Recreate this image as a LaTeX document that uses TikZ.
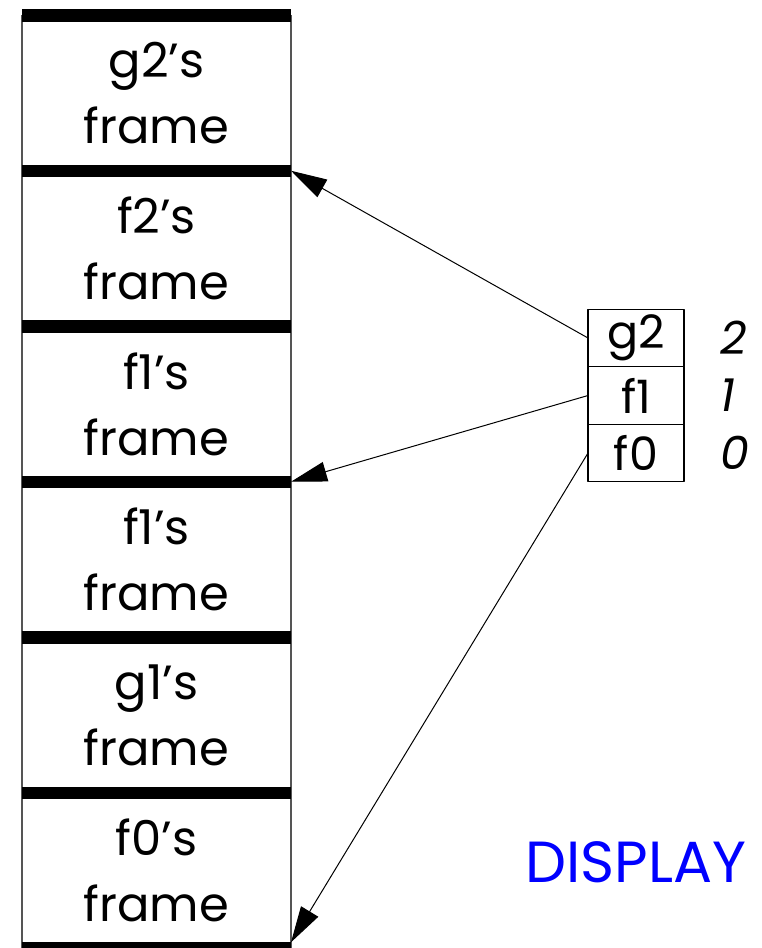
\documentclass[tikz,border=0pt]{standalone}
\usepackage{fontspec}
\setmainfont{Poppins}
\usepackage{tikz}
\usetikzlibrary{arrows.meta,positioning}
\definecolor{qqqqff}{rgb}{0.0,0.0,1.0}
\definecolor{sqsqsq}{rgb}{0.3333,0.3333,0.3333}
\tikzset{
  framebox/.style={minimum width=134.5pt,minimum height=77.75pt,inner sep=0pt,outer sep=0pt,align=center,font=\fontsize{24}{33}\selectfont},
  dispcell/.style={draw,line width=0.6pt,minimum width=48pt,minimum height=28.75pt,inner sep=0pt,outer sep=0pt,font=\fontsize{23}{26}\selectfont},
  dispidx/.style={inner sep=0pt,font=\fontsize{23}{26}\selectfont\itshape}
}
\begin{document}
\begin{tikzpicture}[line cap=butt,line join=round,>={Triangle[length=18pt,width=10pt]},x=0.5pt,y=-0.5pt]
\useasboundingbox (0,0) rectangle (761,948);
\clip (0,0) rectangle (761,948);
% the stack of frames
\node[framebox] (g2frame) at (156.5,93) {g2's\\frame};
\node[framebox,below=0pt of g2frame] (f2frame) {f2's\\frame};
\node[framebox,below=0pt of f2frame] (f1frameA) {f1's\\frame};
\node[framebox,below=0pt of f1frameA] (f1frameB) {f1's\\frame};
\node[framebox,below=0pt of f1frameB] (g1frame) {g1's\\frame};
\node[framebox,below=0pt of g1frame] (f0frame) {f0's\\frame};
\draw [line width=1pt,color=sqsqsq] (g2frame.north west)-- (f0frame.south west);
\draw [line width=1pt,color=sqsqsq] (g2frame.north east)-- (f0frame.south east);
\foreach \fr in {g2frame,f2frame,f1frameA,f1frameB,g1frame,f0frame}
  \draw [line width=6.25pt] (\fr.north west)-- (\fr.north east);
\draw [line width=6.25pt] (f0frame.south west)-- (f0frame.south east);
% the display
\node[dispcell] (dispg2) at (636,338) {g2};
\node[dispcell,below=0pt of dispg2] (dispf1) {f1};
\node[dispcell,below=0pt of dispf1] (dispf0) {f0};
\node[dispidx,right=18pt of dispg2] (idxg2) {2};
\node[dispidx,right=18pt of dispf1] (idxf1) {1};
\node[dispidx,right=18pt of dispf0] (idxf0) {0};
\node[text=qqqqff,font=\fontsize{29}{32}\selectfont] (displabel) at (636,862) {DISPLAY};
\draw [->,line width=0.5pt] (dispg2.west)-- (f2frame.north east);
\draw [->,line width=0.5pt] (dispf1.west)-- (f1frameB.north east);
\draw [->,line width=0.5pt] (dispf0.west)-- ([yshift=3]f0frame.south east);
\end{tikzpicture}
\end{document}
